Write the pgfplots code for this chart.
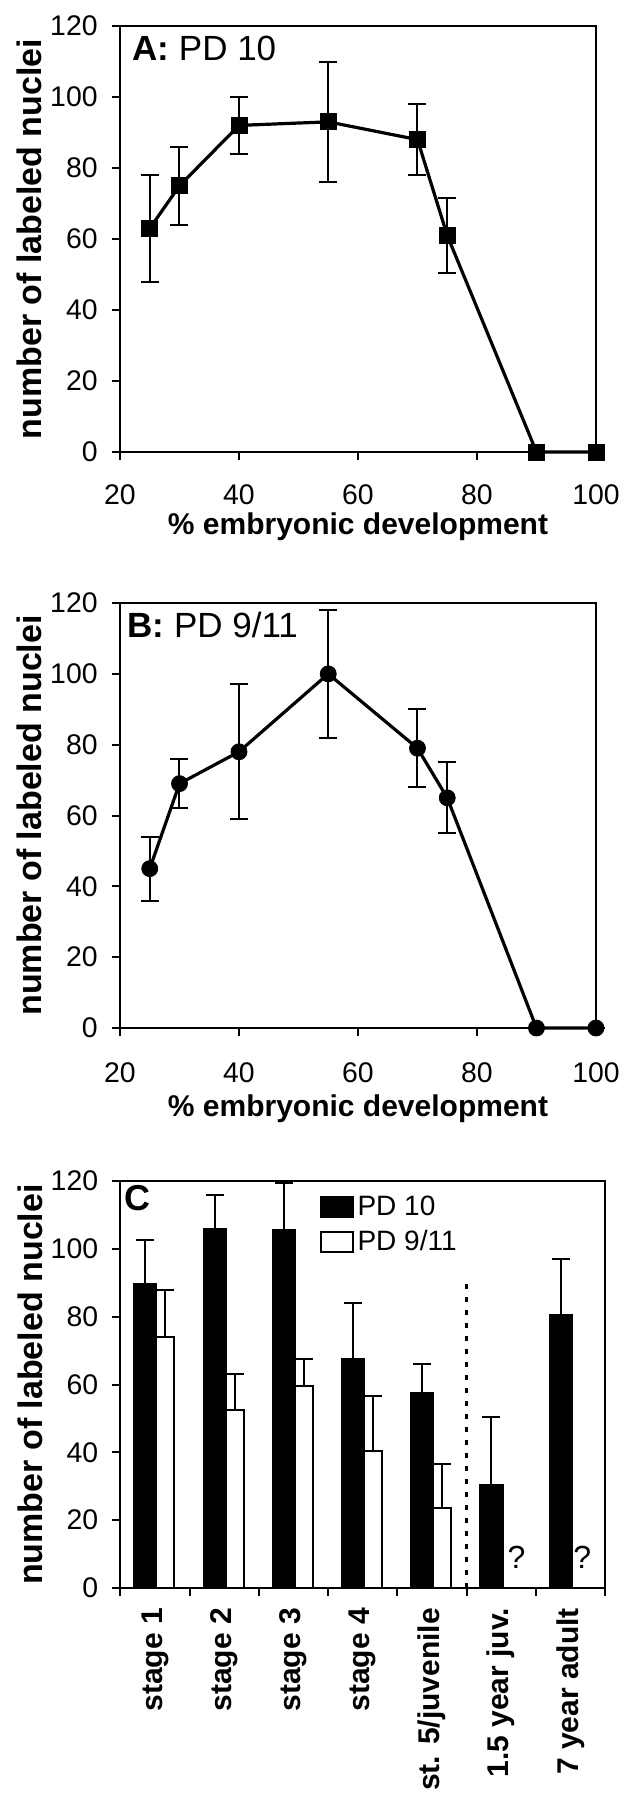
\documentclass[border=0pt]{standalone}
\usepackage{fontspec}
\setmainfont{Liberation Sans}
\usepackage{pgfplots}
\pgfplotsset{compat=1.18}

\newcommand{\tickfont}{\fontsize{14.2}{17}\selectfont}
\newcommand{\xlabfont}{\bfseries\fontsize{15}{18}\selectfont}
\newcommand{\ylabfont}{\bfseries\fontsize{17}{20}\selectfont}
\newcommand{\titlefont}{\fontsize{17.5}{20}\selectfont}

\pgfplotsset{
  panel/.style={
    scale only axis,
    axis line style={line width=1pt},
    tick style={line width=1pt, black},
    major tick length=4pt,
    tick align=outside,
    xtick pos=bottom, ytick pos=left,
    ymin=0, ymax=120, ytick={0,20,...,120},
    /pgf/number format/assume math mode=true,
    tick label style={font=\tickfont},
    yticklabel style={inner sep=0pt, anchor=east, xshift=-7pt},
    xlabel style={font=\xlabfont, anchor=center},
    ylabel style={font=\ylabfont, anchor=center},
    clip=false,
  },
  linepanel/.style={
    panel,
    xmin=20, xmax=100, xtick={20,40,...,100},
    xticklabel style={inner sep=0pt, anchor=north, yshift=-12pt},
    xlabel={\% embryonic development},
    ylabel={number of labeled nuclei},
    ylabel style={at={(axis description cs:-0.19,0.5)}},
  },
  errs/.style={
    error bars/.cd, y dir=both, y explicit,
    error bar style={line width=1pt, black},
    error mark options={rotate=90, mark size=4.5pt, line width=1pt, black},
  },
  barerrs/.style={
    error bars/.cd, y dir=plus, y explicit,
    error bar style={line width=1pt, black},
    error mark options={rotate=90, mark size=4.5pt, line width=1pt, black},
  },
}

\begin{document}
\begin{tikzpicture}
\useasboundingbox (0pt,0pt) rectangle (313.5pt,-900pt);

% ---- A: PD 10
\begin{axis}[linepanel,
  at={(60pt,-226pt)}, anchor=south west, width=238pt, height=213pt,
  xlabel style={at={(axis description cs:0.5,-0.176)}},
]
\addplot[black, line width=1.6pt, mark=square*, mark size=4pt,
  mark options={solid, line width=0.4pt}, errs]
  table[x=x, y=y, y error=e] {
x   y   e
25  63  15
30  75  11
40  92  8
55  93  17
70  88  10
75  61  10.5
90  0   0
100 0   0
};
\node[anchor=west, inner sep=0pt, font=\titlefont] at (rel axis cs:0.025,0.948) {\textbf{A:} PD 10};
\end{axis}

% ---- B: PD 9/11
\begin{axis}[linepanel,
  at={(60pt,-514pt)}, anchor=south west, width=238pt, height=212.5pt,
  xticklabel style={yshift=-1pt},
  xlabel style={at={(axis description cs:0.5,-0.19)}},
]
\addplot[black, line width=1.6pt, mark=*, mark size=4pt,
  mark options={solid, line width=0.4pt}, errs]
  table[x=x, y=y, y error=e] {
x   y    e
25  45   9
30  69   7
40  78   19
55  100  18
70  79   11
75  65   10
90  0    0
100 0    0
};
\node[anchor=west, inner sep=0pt, font=\titlefont] at (rel axis cs:0.0147,0.948) {\textbf{B:} PD 9/11};
\end{axis}

% ---- C: bars by stage (categories at 0..6, bars placed left/right of centre)
\begin{axis}[panel,
  at={(60.25pt,-794pt)}, anchor=south west, width=242.25pt, height=203.5pt,
  xmin=-0.5, xmax=6.5,
  xtick={-0.5,0.5,1.5,2.5,3.5,4.5,5.5,6.5}, xticklabels={},
  extra x ticks={0,1,2,3,4,5,6},
  extra x tick labels={stage 1,stage 2,stage 3,stage 4,st. 5/juvenile,1.5 year juv.,7 year adult},
  extra x tick style={major tick length=0pt,
    xticklabel style={rotate=90, anchor=east, inner sep=0pt, outer sep=10pt,
      font=\bfseries\fontsize{15}{17}\selectfont}},
  ylabel={number of labeled nuclei},
  ylabel style={at={(axis description cs:-0.187,0.5)}},
  legend style={at={(axis description cs:0.41,0.975)}, anchor=north west,
    draw=none, fill=none, inner sep=0pt, row sep=2pt, font=\fontsize{14}{16}\selectfont},
  legend cell align=left,
]
\addplot[ybar, fill=black, draw=black, line width=1pt, bar width=0.32, bar shift=0,
  legend image code/.code={\draw[fill=black, draw=black, line width=1pt] (0pt,-5pt) rectangle (16pt,5pt);},
  barerrs]
  table[x=x, y=y, y error=e] {
x      y      e
-0.14  89.5   13
0.86   106    10
1.86   105.5  14
2.86   67.5   16.5
3.86   57.5   8.5
4.86   30.5   20
5.86   80.5   16.5
};
\addlegendentry{PD 10}
\addplot[ybar, fill=white, draw=black, line width=1pt, bar width=0.26, bar shift=0,
  legend image code/.code={\draw[fill=white, draw=black, line width=1pt] (0pt,-5pt) rectangle (16pt,5pt);},
  barerrs]
  table[x=x, y=y, y error=e] {
x      y      e
0.15   74     14
1.15   52.5   10.5
2.15   59.5   8
3.15   40.5   16
4.15   23.5   13
};
\addlegendentry{PD 9/11}
\draw[line width=1.2pt, dash pattern=on 2.5pt off 4pt] (axis cs:4.5,0) -- (axis cs:4.5,91);
\node[font=\fontsize{16}{18}\selectfont] at (axis cs:5.22,9) {?};
\node[font=\fontsize{16}{18}\selectfont] at (axis cs:6.17,9) {?};
\node[anchor=west, inner sep=0pt, font=\bfseries\fontsize{18}{20}\selectfont] at (rel axis cs:0.007,0.958) {C};
\end{axis}
\end{tikzpicture}
\end{document}
